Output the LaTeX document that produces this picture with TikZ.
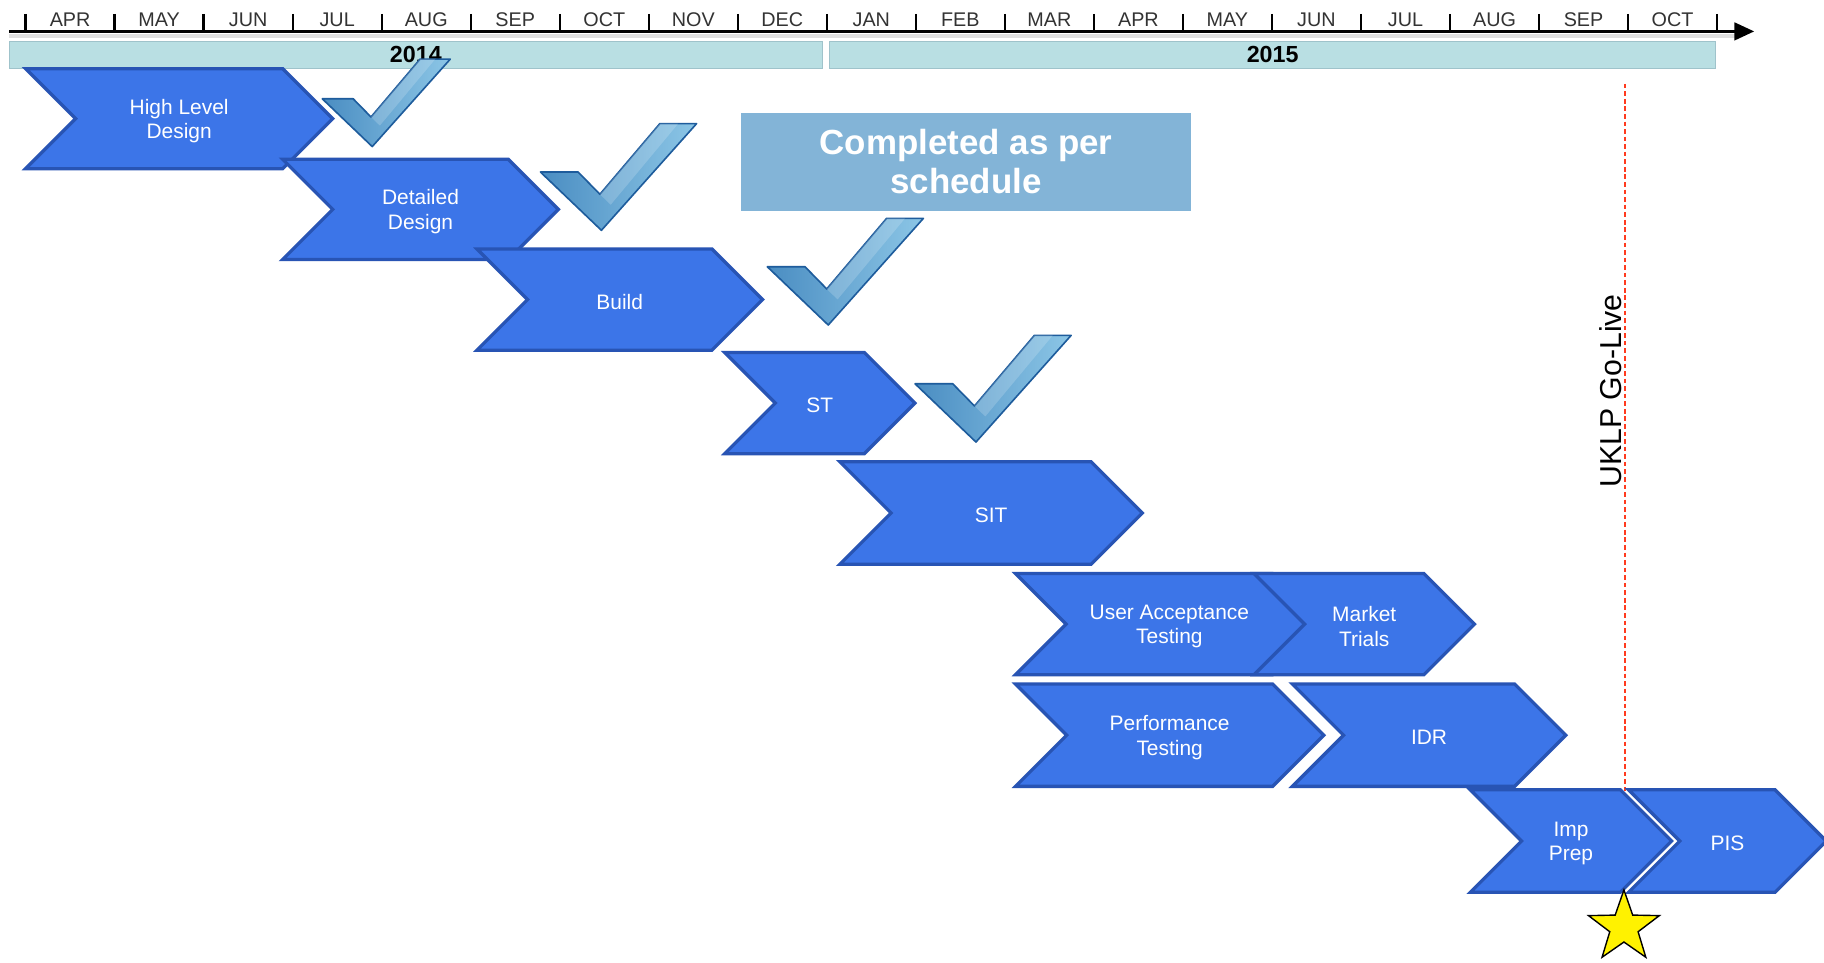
\documentclass[tikz,border=0pt]{standalone}
\usepackage{fontspec}
\setmainfont{Liberation Sans}
\usetikzlibrary{shapes.geometric,arrows.meta}
\definecolor{chevF}{HTML}{3C75E8}
\definecolor{chevB}{HTML}{2854B4}
\definecolor{yearF}{HTML}{B9DFE3}
\definecolor{yearB}{HTML}{9FC3CB}
\definecolor{boxF}{HTML}{83B4D7}
\definecolor{ckD}{HTML}{1E5C9C}
\definecolor{ckA}{HTML}{4A8DC2}
\definecolor{ckB}{HTML}{8CC6E6}
\definecolor{golive}{HTML}{FF3B1F}
\definecolor{monthC}{HTML}{333333}
\tikzset{
  chev/.style={draw=chevB, fill=chevF, line width=2.8pt, line join=miter},
  lbl/.style={text=white, font=\fontsize{18}{21}\selectfont, align=center, inner sep=0pt},
  month/.style={text=monthC, font=\fontsize{17}{20}\selectfont, inner sep=0pt},
  tickln/.style={line width=2pt, black},
  yearbar/.style={draw=yearB, fill=yearF, line width=0.8pt, font=\bfseries\fontsize{20}{24}\selectfont, inner sep=0pt},
  ckshape/.style={draw=ckD, line width=1.4pt, line join=round, left color=ckA, right color=ckB},
}
\newcommand\chevshape[6]{%
  \pgfmathsetmacro\chvd{(#4-#3)/2}%
  \pgfmathsetmacro\chvm{(#4+#3)/2}%
  \draw[chev] (#2,#3) -- (#5,#3) -- ({#5+\chvd},\chvm) -- (#5,#4) -- (#2,#4) -- ({#2+\chvd},\chvm) -- cycle;
  \node[lbl] (#1) at ({(#2+\chvd+#5)/2},{\chvm+2}) {#6};
}
\newcommand\checkmk[3]{%
  \begin{scope}[shift={(#1,#2)}, scale=#3]
    \draw[ckshape] (-52.4,-50.1) -- (-20,-50.1) -- (-1.3,-31) -- (50.2,-91.7) -- (81.8,-91.7) -- (0,0) -- cycle;
    \fill[white, opacity=0.18] (-1.3,-31) -- (50.2,-91.7) -- (66,-91.7) -- (8,-22) -- cycle;
  \end{scope}
}
\begin{document}
\begin{tikzpicture}[x=1pt,y=-1pt]
\fill[white] (0,0) rectangle (1568,827);
\useasboundingbox (0,0) rectangle (1568,827);
% timeline axis
\coordinate (ax0) at (8,27);
\coordinate (ax1) at (1508,27);
\coordinate (sh0) at (8,31);
\coordinate (sh1) at (1492,31);
\draw[line width=4pt, black!13] (sh0) -- (sh1);
\draw[line width=2.6pt, -{Triangle[length=17pt,width=15pt]}] (ax0) -- (ax1);
\foreach \i in {0,...,19} {
  \draw[tickln] ({22+76.53*\i},12) -- ({22+76.53*\i},27);
}
\foreach \m [count=\i from 0] in {APR,MAY,JUN,JUL,AUG,SEP,OCT,NOV,DEC,JAN,FEB,MAR,APR,MAY,JUN,JUL,AUG,SEP,OCT} {
  \node[month] (mon\i) at ({22+76.53*(\i+0.5)},17) {\m};
}
% year bars
\node[yearbar, minimum width=699pt, minimum height=23.5pt] (y2014) at (357.5,47) {2014};
\node[yearbar, minimum width=762pt, minimum height=23.5pt] (y2015) at (1094,47) {2015};
% go-live line
\coordinate (gl0) at (1397,72);
\coordinate (gl1) at (1397,680);
\draw[golive, line width=1.5pt, dash pattern=on 4pt off 2.5pt] (gl0) -- (gl1);
\node[rotate=90, font=\fontsize{26}{30}\selectfont, inner sep=0pt] (golabel) at (1385,336) {UKLP Go-Live};
% completed box
\node[fill=boxF, minimum width=387pt, minimum height=84pt, text=white, align=center,
      font=\bfseries\fontsize{30}{34}\selectfont, inner sep=0pt] (done) at (830.5,139) {Completed as per\\schedule};
% chevrons
\chevshape{hld}{22}{59}{145}{243}{High Level\\Design}
\chevshape{dd}{243}{137}{223}{437}{Detailed\\Design}
\chevshape{build}{410}{214}{301}{612}{Build}
\chevshape{st}{623}{303}{390}{743}{ST}
\chevshape{sit}{722}{397}{485}{938}{SIT}
\chevshape{uat}{873}{493}{580}{1094}{User Acceptance\\Testing}
\chevshape{mt}{1078}{493}{580}{1224}{Market\\Trials}
\chevshape{pt}{873}{588}{676}{1094}{Performance\\Testing}
\chevshape{idr}{1111}{588}{676}{1302}{IDR}
\chevshape{ip}{1264}{679}{767}{1393}{Imp\\Prep}
\chevshape{pis}{1400}{679}{767}{1526}{PIS}
% check marks
\checkmk{320}{126}{0.82}
\checkmk{517}{198}{1}
\checkmk{712}{279.4}{1}
\checkmk{839}{380}{1}
% star
\node[star, star points=5, star point ratio=2.5, draw=black, line width=1.2pt, fill=yellow,
      minimum size=64pt, inner sep=0pt] (gostar) at (1396,797) {};
\end{tikzpicture}
\end{document}
